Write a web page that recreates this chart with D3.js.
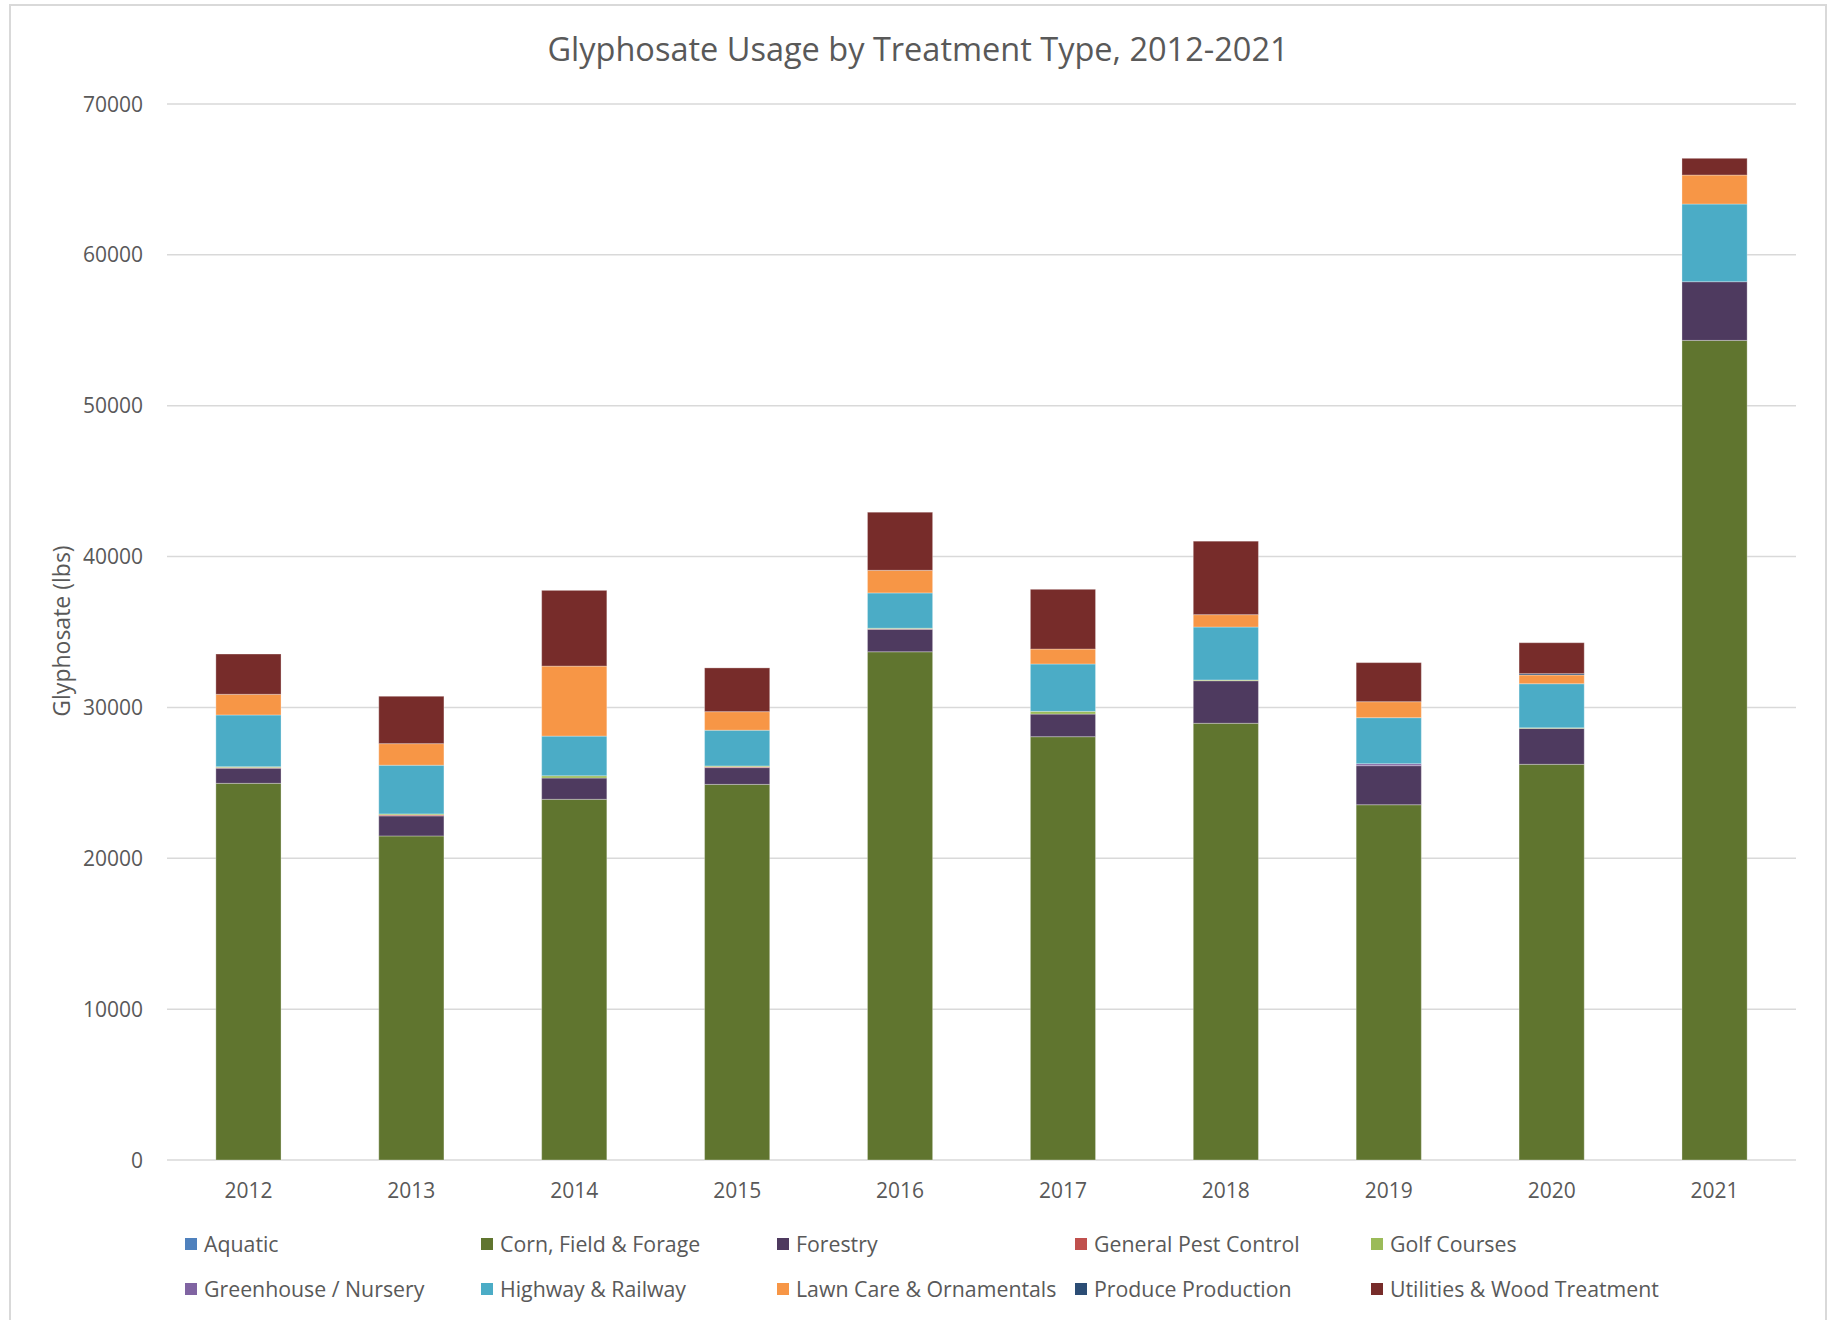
<!DOCTYPE html>
<html>
<head>
<meta charset="utf-8">
<script src="https://cdn.jsdelivr.net/npm/d3@7"></script>
<style>
  html, body { margin: 0; padding: 0; background: #fff; }
  svg { display: block; }
  text { font-family: "Open Sans", "Noto Sans", sans-serif; fill: #595959; }
</style>
</head>
<body>
<svg id="chart" width="1833" height="1320"></svg>
<script>
// ---- data ----
const years = ["2012","2013","2014","2015","2016","2017","2018","2019","2020","2021"];
const seriesNames = ["Aquatic","Corn, Field & Forage","Forestry","General Pest Control","Golf Courses",
  "Greenhouse / Nursery","Highway & Railway","Lawn Care & Ornamentals","Produce Production","Utilities & Wood Treatment"];
const aquatic      = [0, 0, 0, 0, 0, 0, 0, 0, 0, 0];
const cornField    = [24970, 21480, 23910, 24900, 33690, 28060, 28950, 23550, 26230, 54330];
const forestry     = [1000, 1330, 1410, 1110, 1490, 1500, 2820, 2590, 2380, 3890];
const generalPest  = [40, 60, 0, 50, 30, 0, 0, 0, 0, 0];
const golfCourses  = [60, 70, 150, 60, 40, 180, 50, 0, 40, 0];
const greenhouse   = [0, 0, 0, 0, 0, 0, 0, 130, 0, 0];
const highway      = [3430, 3230, 2630, 2370, 2340, 3140, 3510, 3050, 2920, 5150];
const lawnCare     = [1370, 1430, 4640, 1230, 1500, 990, 820, 1060, 580, 1920];
const produce      = [0, 0, 0, 0, 0, 0, 0, 0, 90, 0];
const utilities    = [2670, 3140, 5020, 2900, 3850, 3960, 4870, 2590, 2050, 1110];
const yTicks = [0, 10000, 20000, 30000, 40000, 50000, 60000, 70000];
const colors = ["#4F81BD","#60752F","#4E3A5F","#C0504D","#9BBB59","#8064A2","#4BACC6","#F79646","#2C4D75","#772C2A"];

const seriesValues = [aquatic, cornField, forestry, generalPest, golfCourses, greenhouse, highway, lawnCare, produce, utilities];
const table = years.map((yr, i) => {
  const row = { year: yr };
  seriesNames.forEach((s, k) => row[s] = seriesValues[k][i]);
  return row;
});

// ---- layout ----
const svg = d3.select("#chart");
const W = 1833, H = 1320;
const plotL = 167, plotR = 1796, plotT = 104, plotB = 1160;

svg.append("rect").attr("x", 10).attr("y", 5).attr("width", 1816).attr("height", H + 20)
  .attr("fill", "#fff").attr("stroke", "#d9d9d9").attr("stroke-width", 2);

const x = d3.scaleBand().domain(years).range([plotL, plotR]).paddingInner(0.6).paddingOuter(0.3);
const y = d3.scaleLinear().domain([0, 70000]).range([plotB, plotT]);

// gridlines
svg.append("g").selectAll("line").data(yTicks).join("line")
  .attr("x1", plotL).attr("x2", plotR)
  .attr("y1", d => y(d)).attr("y2", d => y(d))
  .attr("stroke", "#d9d9d9").attr("stroke-width", 1.5);

// y tick labels
svg.append("g").selectAll("text").data(yTicks).join("text")
  .attr("x", 143).attr("y", d => y(d)).attr("dy", "0.36em")
  .attr("text-anchor", "end").attr("font-size", 21).text(d => d);

// x labels
svg.append("g").selectAll("text").data(years).join("text")
  .attr("x", d => x(d) + x.bandwidth() / 2).attr("y", 1198)
  .attr("text-anchor", "middle").attr("font-size", 21).text(d => d);

// stacked bars
const stack = d3.stack().keys(seriesNames)(table);
svg.append("g").selectAll("g").data(stack).join("g")
  .attr("fill", (d, i) => colors[i])
  .selectAll("rect").data(d => d).join("rect")
  .attr("x", d => x(d.data.year))
  .attr("width", x.bandwidth())
  .attr("y", d => y(d[1]))
  .attr("height", d => Math.max(0, y(d[0]) - y(d[1])))
  .attr("stroke", "#ffffff").attr("stroke-opacity", d => (d[1] - d[0]) > 0 ? 0.3 : 0)
  .attr("stroke-width", 1);

// title
svg.append("text").attr("x", 918).attr("y", 61).attr("text-anchor", "middle")
  .attr("font-size", 32.5).text("Glyphosate Usage by Treatment Type, 2012-2021");

// y axis title
svg.append("text").attr("transform", "translate(70,631) rotate(-90)")
  .attr("text-anchor", "middle").attr("font-size", 23).text("Glyphosate (lbs)");

// legend
const legCols = [185, 481, 777, 1075, 1371];
const legRows = [1244, 1289];
const leg = svg.append("g").selectAll("g").data(seriesNames).join("g")
  .attr("transform", (d, i) => `translate(${legCols[i % 5]},${legRows[Math.floor(i / 5)]})`);
leg.append("rect").attr("x", 0).attr("y", -6).attr("width", 12).attr("height", 12)
  .attr("fill", (d, i) => colors[i]);
leg.append("text").attr("x", 19).attr("y", 0).attr("dy", "0.36em")
  .attr("font-size", 21.3).text(d => d);
</script>
</body>
</html>
